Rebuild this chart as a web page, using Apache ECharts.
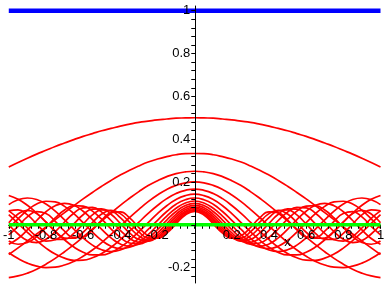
<!DOCTYPE html>
<html>
<head>
<meta charset="utf-8">
<script src="https://cdn.jsdelivr.net/npm/echarts@6/dist/echarts.min.js"></script>
<style>
html,body{margin:0;padding:0;background:#fff;}
#c{width:388px;height:288px;}
</style>
</head>
<body>
<div id="c"></div>
<script>
// sample positions along x
const xValues = [-1,-0.95,-0.9,-0.85,-0.8,-0.75,-0.7,-0.65,-0.6,-0.55,-0.5,-0.45,-0.4,-0.35,-0.3,-0.25,-0.2,-0.15,-0.1,-0.05,0,0.05,0.1,0.15,0.2,0.25,0.3,0.35,0.4,0.45,0.5,0.55,0.6,0.65,0.7,0.75,0.8,0.85,0.9,0.95,1];

// red curves, values
const curve1 = [0.270,0.291,0.311,0.330,0.348,0.366,0.382,0.398,0.413,0.426,0.439,0.450,0.461,0.470,0.478,0.484,0.490,0.494,0.498,0.499,0.500,0.499,0.498,0.494,0.490,0.484,0.478,0.470,0.461,0.450,0.439,0.426,0.413,0.398,0.382,0.366,0.348,0.330,0.311,0.291,0.270];
const curve2 = [-0.139,-0.108,-0.076,-0.043,-0.010,0.024,0.057,0.089,0.121,0.151,0.180,0.207,0.232,0.255,0.275,0.293,0.307,0.318,0.327,0.332,0.333,0.332,0.327,0.318,0.307,0.293,0.275,0.255,0.232,0.207,0.180,0.151,0.121,0.089,0.057,0.024,-0.010,-0.043,-0.076,-0.108,-0.139];
const curve3 = [-0.247,-0.239,-0.226,-0.208,-0.184,-0.157,-0.126,-0.093,-0.057,-0.020,0.018,0.055,0.091,0.124,0.155,0.183,0.206,0.225,0.239,0.247,0.250,0.247,0.239,0.225,0.206,0.183,0.155,0.124,0.091,0.055,0.018,-0.020,-0.057,-0.093,-0.126,-0.157,-0.184,-0.208,-0.226,-0.239,-0.247];
const curve4 = [-0.131,-0.158,-0.179,-0.193,-0.200,-0.198,-0.188,-0.171,-0.147,-0.118,-0.083,-0.045,-0.006,0.034,0.072,0.108,0.139,0.165,0.184,0.196,0.200,0.196,0.184,0.165,0.139,0.108,0.072,0.034,-0.006,-0.045,-0.083,-0.118,-0.147,-0.171,-0.188,-0.198,-0.200,-0.193,-0.179,-0.158,-0.131];
const curve5 = [0.047,0.006,-0.035,-0.074,-0.109,-0.137,-0.156,-0.166,-0.165,-0.154,-0.134,-0.105,-0.069,-0.030,0.012,0.053,0.090,0.122,0.146,0.161,0.167,0.161,0.146,0.122,0.090,0.053,0.012,-0.030,-0.069,-0.105,-0.134,-0.154,-0.165,-0.166,-0.156,-0.137,-0.109,-0.074,-0.035,0.006,0.047];
const curve6 = [0.137,0.119,0.091,0.054,0.012,-0.030,-0.070,-0.104,-0.128,-0.141,-0.141,-0.129,-0.105,-0.072,-0.032,0.010,0.052,0.089,0.118,0.136,0.143,0.136,0.118,0.089,0.052,0.010,-0.032,-0.072,-0.105,-0.129,-0.141,-0.141,-0.128,-0.104,-0.070,-0.030,0.012,0.054,0.091,0.119,0.137];
const curve7 = [0.094,0.117,0.125,0.118,0.097,0.064,0.023,-0.020,-0.061,-0.095,-0.117,-0.125,-0.118,-0.096,-0.063,-0.022,0.021,0.062,0.096,0.117,0.125,0.117,0.096,0.062,0.021,-0.022,-0.063,-0.096,-0.118,-0.125,-0.117,-0.095,-0.061,-0.020,0.023,0.064,0.097,0.118,0.125,0.117,0.094];
const curve8 = [-0.016,0.028,0.068,0.097,0.110,0.107,0.086,0.052,0.010,-0.034,-0.073,-0.100,-0.111,-0.105,-0.082,-0.046,-0.003,0.040,0.077,0.102,0.111,0.102,0.077,0.040,-0.003,-0.046,-0.082,-0.105,-0.111,-0.100,-0.073,-0.034,0.010,0.052,0.086,0.107,0.110,0.097,0.068,0.028,-0.016];
const curve9 = [-0.091,-0.064,-0.024,0.020,0.061,0.089,0.100,0.091,0.063,0.024,-0.021,-0.061,-0.090,-0.100,-0.090,-0.063,-0.023,0.022,0.062,0.090,0.100,0.090,0.062,0.022,-0.023,-0.063,-0.090,-0.100,-0.090,-0.061,-0.021,0.024,0.063,0.091,0.100,0.089,0.061,0.020,-0.024,-0.064,-0.091];
const curve10 = [-0.076,-0.091,-0.083,-0.055,-0.013,0.032,0.069,0.089,0.087,0.064,0.026,-0.019,-0.059,-0.085,-0.090,-0.073,-0.038,0.006,0.049,0.080,0.091,0.080,0.049,0.006,-0.038,-0.073,-0.090,-0.085,-0.059,-0.019,0.026,0.064,0.087,0.089,0.069,0.032,-0.013,-0.055,-0.083,-0.091,-0.076];
const curve11 = [0.000,-0.043,-0.074,-0.083,-0.068,-0.032,0.013,0.054,0.079,0.081,0.059,0.020,-0.026,-0.063,-0.082,-0.077,-0.049,-0.007,0.038,0.071,0.083,0.071,0.038,-0.007,-0.049,-0.077,-0.082,-0.063,-0.026,0.020,0.059,0.081,0.079,0.054,0.013,-0.032,-0.068,-0.083,-0.074,-0.043,0.000];
const curve12 = [0.065,0.030,-0.015,-0.055,-0.076,-0.070,-0.040,0.004,0.047,0.073,0.074,0.049,0.007,-0.038,-0.069,-0.076,-0.057,-0.017,0.028,0.063,0.077,0.063,0.028,-0.017,-0.057,-0.076,-0.069,-0.038,0.007,0.049,0.074,0.073,0.047,0.004,-0.040,-0.070,-0.076,-0.055,-0.015,0.030,0.065];
const curve13 = [0.065,0.070,0.046,0.004,-0.040,-0.068,-0.068,-0.040,0.004,0.046,0.070,0.065,0.033,-0.012,-0.052,-0.071,-0.061,-0.026,0.019,0.057,0.071,0.057,0.019,-0.026,-0.061,-0.071,-0.052,-0.012,0.033,0.065,0.070,0.046,0.004,-0.040,-0.068,-0.068,-0.040,0.004,0.046,0.070,0.065];
const curve14 = [0.009,0.050,0.067,0.052,0.014,-0.032,-0.062,-0.063,-0.035,0.010,0.050,0.067,0.052,0.012,-0.033,-0.062,-0.063,-0.034,0.011,0.051,0.067,0.051,0.011,-0.034,-0.063,-0.062,-0.033,0.012,0.052,0.067,0.050,0.010,-0.035,-0.063,-0.062,-0.032,0.014,0.052,0.067,0.050,0.009];
const curve15 = [-0.047,-0.007,0.037,0.061,0.053,0.016,-0.030,-0.059,-0.057,-0.024,0.022,0.056,0.060,0.032,-0.013,-0.051,-0.062,-0.039,0.004,0.046,0.063,0.046,0.004,-0.039,-0.062,-0.051,-0.013,0.032,0.060,0.056,0.022,-0.024,-0.057,-0.059,-0.030,0.016,0.053,0.061,0.037,-0.007,-0.047];

// horizontal lines
const blueX = [-1, 1];
const blueY = [1, 1];
const greenX = [-1, 1];
const greenY = [0, 0];

// tick labels
const xTickLabels = [-1,-0.8,-0.6,-0.4,-0.2,0.2,0.4,0.6,0.8,1];
const yTickLabels = [-0.2,0.2,0.4,0.6,0.8,1];
const xAxisName = 'x';

const redCurves = [curve1,curve2,curve3,curve4,curve5,curve6,curve7,curve8,curve9,curve10,curve11,curve12,curve13,curve14,curve15];

const xMinorTicks = [];
for (let i = -25; i <= 25; i++) xMinorTicks.push(Math.round(i * 4) / 100);
const yMinorTicks = [];
for (let i = -6; i <= 25; i++) yMinorTicks.push(Math.round(i * 4) / 100);

const X_MIN = -1, X_MAX = 1, Y_MIN = -0.272, Y_MAX = 1.022;
const G_LEFT = 7.5, G_TOP = 6, G_W = 373, G_H = 277;
// move the axes onto the zero lines (labels included) using offsets
const xAxisOffset = -(G_H * (0 - Y_MIN) / (Y_MAX - Y_MIN));
const yAxisOffset = -(G_W * (0 - X_MIN) / (X_MAX - X_MIN));

const FONT = 'Liberation Sans, Arial, sans-serif';
const chart = echarts.init(document.getElementById('c'), null, {renderer: 'canvas'});

const series = redCurves.map(arr => ({
  type: 'line',
  data: xValues.map((x, i) => [x, arr[i]]),
  smooth: 0.5,
  symbol: 'none',
  lineStyle: {color: '#ff0000', width: 1.7},
  z: 2,
  silent: true
}));
series.push({
  type: 'line',
  data: greenX.map((x, i) => [x, greenY[i]]),
  symbol: 'none',
  lineStyle: {color: '#00ff00', width: 3.3},
  z: 3,
  silent: true
});
series.push({
  type: 'line',
  data: blueX.map((x, i) => [x, blueY[i]]),
  symbol: 'none',
  lineStyle: {color: '#0000ff', width: 4.6},
  z: 3,
  silent: true
});

chart.setOption({
  animation: false,
  backgroundColor: '#ffffff',
  grid: {left: G_LEFT, top: G_TOP, width: G_W, height: G_H, containLabel: false},
  xAxis: {
    type: 'value', min: X_MIN, max: X_MAX,
    position: 'bottom', offset: xAxisOffset,
    z: 2.5,
    axisLine: {onZero: false, lineStyle: {color: '#000', width: 1}},
    axisTick: {show: true, customValues: xMinorTicks, length: 4, inside: false, lineStyle: {color: '#000', width: 1}},
    axisLabel: {customValues: xTickLabels, margin: 4, color: '#000', fontSize: 13, fontFamily: FONT,
      formatter: v => String(v), showMinLabel: true, showMaxLabel: true, hideOverlap: false},
    splitLine: {show: false}
  },
  yAxis: {
    type: 'value', min: Y_MIN, max: Y_MAX,
    position: 'left', offset: yAxisOffset,
    z: 4,
    axisLine: {onZero: false, lineStyle: {color: '#000', width: 1}},
    axisTick: {show: true, customValues: yMinorTicks, length: 4, inside: false, lineStyle: {color: '#000', width: 1}},
    axisLabel: {customValues: yTickLabels, margin: 5, color: '#000', fontSize: 13, fontFamily: FONT,
      formatter: v => String(v), hideOverlap: false},
    splitLine: {show: false}
  },
  series: series
});

const p = chart.convertToPixel({xAxisIndex: 0, yAxisIndex: 0}, [0.5, 0]);
chart.setOption({
  graphic: [{
    type: 'text', x: p[0], y: p[1] + 18,
    style: {text: xAxisName, fill: '#000', font: '13px ' + FONT, align: 'center', verticalAlign: 'middle'},
    z: 10
  }]
});
</script>
</body>
</html>
